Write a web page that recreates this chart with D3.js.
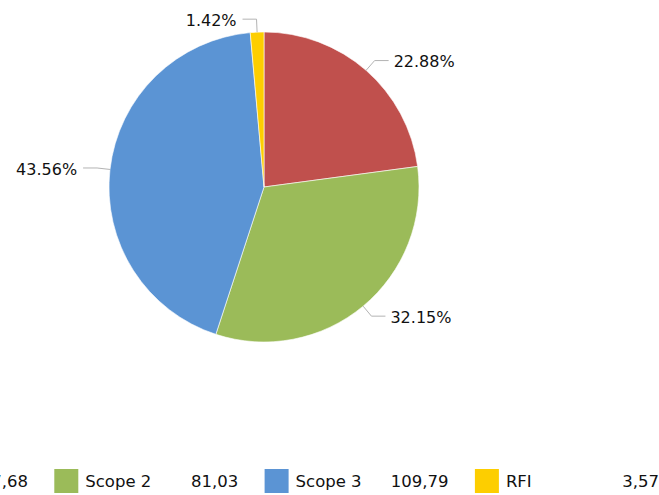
<!DOCTYPE html>
<html>
<head>
<meta charset="utf-8">
<script src="https://cdn.jsdelivr.net/npm/d3@7"></script>
<style>
  body { margin: 0; background: #fff; }
  svg { display: block; font-family: "DejaVu Sans", Verdana, sans-serif; }
</style>
</head>
<body>
<svg id="chart" width="659" height="495"></svg>
<script>
// data
var categories = ["Scope 1", "Scope 2", "Scope 3", "RFI"],
    values = [57.68, 81.03, 109.79, 3.57],
    colors = ["#c0504d", "#9bbb59", "#5b94d4", "#fdce00"];

var width = 659,
    height = 495,
    cx = 264,
    cy = 187,
    radius = 155,
    lineOut = 13,
    lineFlat = 14;

var svg = d3.select("#chart");

var total = d3.sum(values);
var pct = d3.format(".2f");

var pie = d3.pie().sort(null).value(function(d) { return d.value; });
var arc = d3.arc().innerRadius(0).outerRadius(radius);

var rows = categories.map(function(c, i) {
  return {name: c, value: values[i], color: colors[i]};
});

var g = svg.append("g").attr("transform", "translate(" + cx + "," + cy + ")");

var slices = g.selectAll("g.slice").data(pie(rows)).enter().append("g").attr("class", "slice");

slices.append("path")
  .attr("d", arc)
  .attr("fill", function(d) { return d.data.color; })
  .attr("stroke", "#fff")
  .attr("stroke-width", 0.6);

// leader lines + labels
slices.each(function(d) {
  var a = (d.startAngle + d.endAngle) / 2,
      sx = Math.sin(a), sy = -Math.cos(a),
      p0 = [sx * radius, sy * radius],
      p1 = [sx * (radius + lineOut), sy * (radius + lineOut)],
      right = sx > 0,
      p2 = [p1[0] + (right ? lineFlat : -lineFlat), p1[1]];
  var sel = d3.select(this);
  sel.append("polyline")
    .attr("points", [p0, p1, p2].map(function(p) { return p.join(","); }).join(" "))
    .attr("fill", "none")
    .attr("stroke", "#b3b3b3")
    .attr("stroke-width", 1);
  sel.append("text")
    .attr("x", p2[0] + (right ? 5 : -6))
    .attr("y", p2[1] + 1)
    .attr("dy", "0.35em")
    .attr("text-anchor", right ? "start" : "end")
    .attr("font-size", 16)
    .attr("fill", "#111")
    .text(pct(d.data.value / total * 100) + "%");
});

// legend along the bottom (partly off-canvas on the left, as in the original)
var lx = d3.scaleBand().domain(categories).range([-156, -156 + 210.3 * categories.length]);

var legend = svg.selectAll("g.legend").data(rows).enter().append("g")
  .attr("class", "legend")
  .attr("transform", function(d) { return "translate(" + lx(d.name) + ",469)"; });

legend.append("rect")
  .attr("width", 24)
  .attr("height", 24)
  .attr("fill", function(d) { return d.color; });

legend.append("text")
  .attr("x", 31)
  .attr("y", 12)
  .attr("dy", "0.35em")
  .attr("font-size", 16.5)
  .attr("fill", "#111")
  .text(function(d) { return d.name; });

legend.append("text")
  .attr("x", 184)
  .attr("y", 12)
  .attr("dy", "0.35em")
  .attr("text-anchor", "end")
  .attr("font-size", 16.5)
  .attr("fill", "#111")
  .text(function(d) { return pct(d.value).replace(".", ","); });
</script>
</body>
</html>
